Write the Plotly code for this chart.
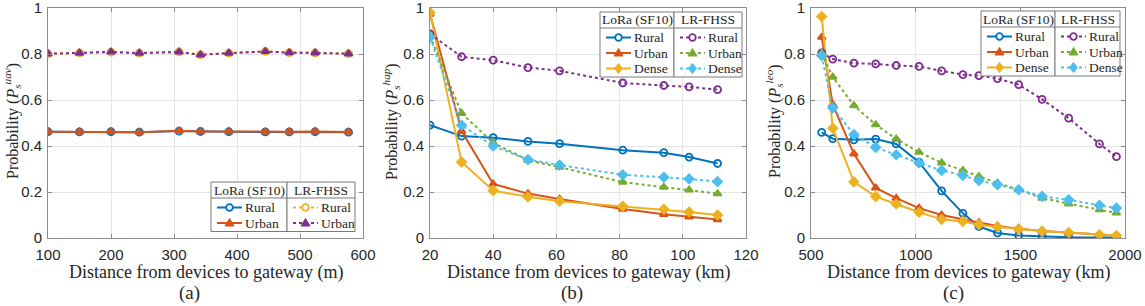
import plotly.graph_objects as go

W, H = 1145, 306

# ---------------- data ----------------
# Panel (a) UAV
a_x = [100, 150, 200, 245, 308, 342, 387, 445, 483, 524, 577]
a_lora_rural = [0.462, 0.461, 0.462, 0.460, 0.465, 0.463, 0.462, 0.461, 0.461, 0.462, 0.460]
a_lora_urban = [0.462, 0.462, 0.463, 0.460, 0.466, 0.463, 0.463, 0.461, 0.462, 0.463, 0.461]
a_lr_rural = [0.801, 0.805, 0.808, 0.804, 0.809, 0.797, 0.804, 0.811, 0.806, 0.805, 0.802]
a_lr_urban = [0.801, 0.804, 0.809, 0.804, 0.809, 0.796, 0.804, 0.811, 0.806, 0.805, 0.801]

# Panel (b) HAP
b_x = [20, 30, 40, 51, 61, 81, 94, 102, 111]
b_lora_rural = [0.491, 0.443, 0.436, 0.420, 0.410, 0.382, 0.371, 0.352, 0.324]
b_lora_urban = [0.974, 0.465, 0.235, 0.193, 0.170, 0.126, 0.103, 0.092, 0.080]
b_lora_dense = [0.980, 0.330, 0.206, 0.179, 0.160, 0.138, 0.125, 0.113, 0.100]
b_lr_rural = [0.887, 0.788, 0.773, 0.741, 0.727, 0.674, 0.663, 0.657, 0.645]
b_lr_urban = [0.879, 0.542, 0.414, 0.338, 0.308, 0.243, 0.221, 0.209, 0.193]
b_lr_dense = [0.872, 0.490, 0.400, 0.341, 0.317, 0.275, 0.264, 0.257, 0.245]

# Panel (c) LEO
c_x = [551, 604, 705, 809, 907, 1016, 1124, 1226, 1302, 1391, 1492, 1604, 1731, 1878, 1959]
c_lora_rural = [0.459, 0.432, 0.427, 0.430, 0.409, 0.330, 0.205, 0.107, 0.050, 0.022, 0.011, 0.006, 0.003, 0.002, 0.002]
c_lora_urban = [0.873, 0.580, 0.366, 0.218, 0.173, 0.130, 0.100, 0.080, 0.067, 0.052, 0.040, 0.030, 0.022, 0.015, 0.011]
c_lora_dense = [0.963, 0.477, 0.244, 0.180, 0.148, 0.112, 0.081, 0.072, 0.058, 0.048, 0.040, 0.030, 0.024, 0.014, 0.011]
c_lr_rural = [0.805, 0.778, 0.760, 0.757, 0.750, 0.746, 0.727, 0.710, 0.706, 0.693, 0.667, 0.603, 0.521, 0.409, 0.354]
c_lr_urban = [0.804, 0.700, 0.576, 0.493, 0.431, 0.373, 0.327, 0.294, 0.268, 0.239, 0.210, 0.174, 0.149, 0.123, 0.109]
c_lr_dense = [0.793, 0.566, 0.450, 0.394, 0.362, 0.326, 0.294, 0.272, 0.250, 0.232, 0.210, 0.181, 0.166, 0.142, 0.130]

y_ticks = [0, 0.2, 0.4, 0.6, 0.8, 1]
y_ticklabels = ["0", "0.2", "0.4", "0.6", "0.8", "1"]

# ---------------- style ----------------
BLUE = "#0072BD"
ORANGE = "#D95319"
YELLOW = "#EDB120"
PURPLE = "#7E2F8E"
GREEN = "#77AC30"
LBLUE = "#4DBEEE"

SERIF = "Liberation Serif, Times New Roman, serif"
SANS = "Liberation Sans, Arial, sans-serif"
TXT = "#262626"

fig = go.Figure()


def add(x, y, name, color, symbol, dash, xa, ya, group):
    fig.add_trace(go.Scatter(
        x=x, y=y, name=name, mode="lines+markers", legendgroup=group,
        showlegend=False,
        line=dict(color=color, width=2, dash=dash),
        marker=dict(color=color, symbol=symbol, size=7,
                    line=dict(color=color, width=1.8)),
        xaxis=xa, yaxis=ya,
    ))


# panel a
add(a_x, a_lora_rural, "Rural", BLUE, "circle-open", "solid", "x", "y", "LoRa (SF10)")
add(a_x, a_lora_urban, "Urban", ORANGE, "triangle-up", "solid", "x", "y", "LoRa (SF10)")
add(a_x, a_lr_rural, "Rural", YELLOW, "circle-open", "dot", "x", "y", "LR-FHSS")
add(a_x, a_lr_urban, "Urban", PURPLE, "triangle-up", "dot", "x", "y", "LR-FHSS")
# panel b
add(b_x, b_lora_rural, "Rural", BLUE, "circle-open", "solid", "x2", "y2", "LoRa (SF10)")
add(b_x, b_lora_urban, "Urban", ORANGE, "triangle-up", "solid", "x2", "y2", "LoRa (SF10)")
add(b_x, b_lora_dense, "Dense", YELLOW, "diamond", "solid", "x2", "y2", "LoRa (SF10)")
add(b_x, b_lr_rural, "Rural", PURPLE, "circle-open", "dot", "x2", "y2", "LR-FHSS")
add(b_x, b_lr_urban, "Urban", GREEN, "triangle-up", "dot", "x2", "y2", "LR-FHSS")
add(b_x, b_lr_dense, "Dense", LBLUE, "diamond", "dot", "x2", "y2", "LR-FHSS")
# panel c
add(c_x, c_lora_rural, "Rural", BLUE, "circle-open", "solid", "x3", "y3", "LoRa (SF10)")
add(c_x, c_lora_urban, "Urban", ORANGE, "triangle-up", "solid", "x3", "y3", "LoRa (SF10)")
add(c_x, c_lora_dense, "Dense", YELLOW, "diamond", "solid", "x3", "y3", "LoRa (SF10)")
add(c_x, c_lr_rural, "Rural", PURPLE, "circle-open", "dot", "x3", "y3", "LR-FHSS")
add(c_x, c_lr_urban, "Urban", GREEN, "triangle-up", "dot", "x3", "y3", "LR-FHSS")
add(c_x, c_lr_dense, "Dense", LBLUE, "diamond", "dot", "x3", "y3", "LR-FHSS")

# ---------------- axes ----------------
panels = [
    (48, 363, [100, 600], [100, 200, 300, 400, 500, 600]),
    (430, 746, [20, 120], [20, 40, 60, 80, 100, 120]),
    (811, 1125, [500, 2000], [500, 1000, 1500, 2000]),
]
y_dom = [1 - 238 / H, 1 - 8 / H]
AX = "#8c8c8c"
for i, (l, r, rng, tv) in enumerate(panels):
    sfx = "" if i == 0 else str(i + 1)
    fig.layout["xaxis" + sfx] = dict(
        domain=[l / W, r / W], range=rng, tickvals=tv,
        showgrid=True, gridcolor="#e5e5e5", gridwidth=1,
        showline=True, linecolor=AX, linewidth=1, mirror="ticks",
        ticks="inside", ticklen=4, tickcolor=AX, zeroline=False,
        ticklabelstandoff=3, automargin=False, ticklabeloverflow="allow",
        tickfont=dict(family=SANS, size=15, color=TXT),
        anchor="y" + sfx,
    )
    fig.layout["yaxis" + sfx] = dict(
        domain=y_dom, range=[0, 1], tickvals=y_ticks, ticktext=y_ticklabels,
        showgrid=True, gridcolor="#e5e5e5", gridwidth=1,
        showline=True, linecolor=AX, linewidth=1, mirror="ticks",
        ticks="inside", ticklen=4, tickcolor=AX, zeroline=False,
        ticklabelstandoff=2, automargin=False, ticklabeloverflow="allow",
        tickfont=dict(family=SANS, size=15, color=TXT),
        anchor="x" + sfx,
    )

# ---------------- legends (drawn as boxed tables like the original) ----------------
shapes = []
ann = []


def px(v):
    return v / W


def py(v):
    return 1 - v / H


def legend_box(left, right, top, title, traces):
    sep = top + 16
    n = len(traces)
    bottom = sep + 9.5 + (n - 1) * 15.5 + 8.5
    shapes.append(dict(type="rect", xref="paper", yref="paper",
                       x0=px(left), x1=px(right), y0=py(bottom), y1=py(top),
                       line=dict(color="#7a7a7a", width=1), fillcolor="white"))
    shapes.append(dict(type="line", xref="paper", yref="paper",
                       x0=px(left), x1=px(right), y0=py(sep), y1=py(sep),
                       line=dict(color="#7a7a7a", width=1)))
    ann.append(dict(text=title, x=px((left + right) / 2), y=py((top + sep) / 2),
                    xref="paper", yref="paper", showarrow=False,
                    xanchor="center", yanchor="middle",
                    font=dict(family=SERIF, size=13.5, color=TXT)))
    for k, tr in enumerate(traces):
        cy = sep + 9.5 + k * 15.5
        color = tr.line.color
        dash = tr.line.dash
        sym = tr.marker.symbol
        shapes.append(dict(type="line", xref="paper", yref="paper",
                           x0=px(left + 6), x1=px(left + 31), y0=py(cy), y1=py(cy),
                           line=dict(color=color, width=2, dash=dash)))
        cx = left + 18.5
        if sym == "circle-open":
            shapes.append(dict(type="circle", xref="paper", yref="paper",
                               x0=px(cx - 3.3), x1=px(cx + 3.3),
                               y0=py(cy + 3.3), y1=py(cy - 3.3),
                               line=dict(color=color, width=1.8), fillcolor="white"))
        elif sym == "triangle-up":
            path = "M %f,%f L %f,%f L %f,%f Z" % (px(cx), py(cy - 4.5), px(cx + 4.5), py(cy + 3),
                                                   px(cx - 4.5), py(cy + 3))
            shapes.append(dict(type="path", xref="paper", yref="paper", path=path,
                               line=dict(color=color, width=1), fillcolor=color))
        else:
            path = "M %f,%f L %f,%f L %f,%f L %f,%f Z" % (px(cx), py(cy - 5), px(cx + 4), py(cy),
                                                           px(cx), py(cy + 5), px(cx - 4), py(cy))
            shapes.append(dict(type="path", xref="paper", yref="paper", path=path,
                               line=dict(color=color, width=1), fillcolor=color))
        ann.append(dict(text=tr.name, x=px(left + 32), y=py(cy),
                        xref="paper", yref="paper", showarrow=False,
                        xanchor="left", yanchor="middle",
                        font=dict(family=SERIF, size=13.5, color=TXT)))


T = fig.data
legend_box(211, 287, 182, "LoRa (SF10)", T[0:2])
legend_box(287, 355, 182, "LR-FHSS", T[2:4])
legend_box(600, 674, 12, "LoRa (SF10)", T[4:7])
legend_box(674, 742, 12, "LR-FHSS", T[7:10])
legend_box(981, 1055, 11, "LoRa (SF10)", T[10:13])
legend_box(1055, 1120, 11, "LR-FHSS", T[13:16])

# ---------------- titles ----------------
xtitles = ["Distance from devices to gateway (m)",
           "Distance from devices to gateway (km)",
           "Distance from devices to gateway (km)"]
ylabels = ["uav", "hap", "leo"]
ylab_x = [12, 391, 774]
sub_x = [189, 572, 953]
for i, (l, r, rng, tv) in enumerate(panels):
    ann.append(dict(text=xtitles[i], x=(l + r) / 2 / W, y=1 - 272 / H,
                    xref="paper", yref="paper", showarrow=False,
                    xanchor="center", yanchor="middle",
                    font=dict(family=SERIF, size=18, color=TXT)))
    ann.append(dict(text="Probability (<i>P</i><sub><i>s</i></sub><sup><i>" + ylabels[i] + "</i></sup>)",
                    x=ylab_x[i] / W, y=1 - 121 / H, textangle=-90,
                    xref="paper", yref="paper", showarrow=False,
                    xanchor="center", yanchor="middle",
                    font=dict(family=SERIF, size=16, color=TXT)))
    ann.append(dict(text="(" + "abc"[i] + ")", x=sub_x[i] / W, y=1 - 293 / H,
                    xref="paper", yref="paper", showarrow=False,
                    xanchor="center", yanchor="middle",
                    font=dict(family=SERIF, size=19, color=TXT)))

fig.update_layout(
    width=W, height=H, margin=dict(l=0, r=0, t=0, b=0, autoexpand=False),
    paper_bgcolor="white", plot_bgcolor="white",
    annotations=ann, shapes=shapes, showlegend=False,
)

fig.write_html(
    "out.html",
    config={"displayModeBar": False, "staticPlot": True},
    post_script="document.body.style.margin='0px';document.body.style.overflow='hidden';",
)
